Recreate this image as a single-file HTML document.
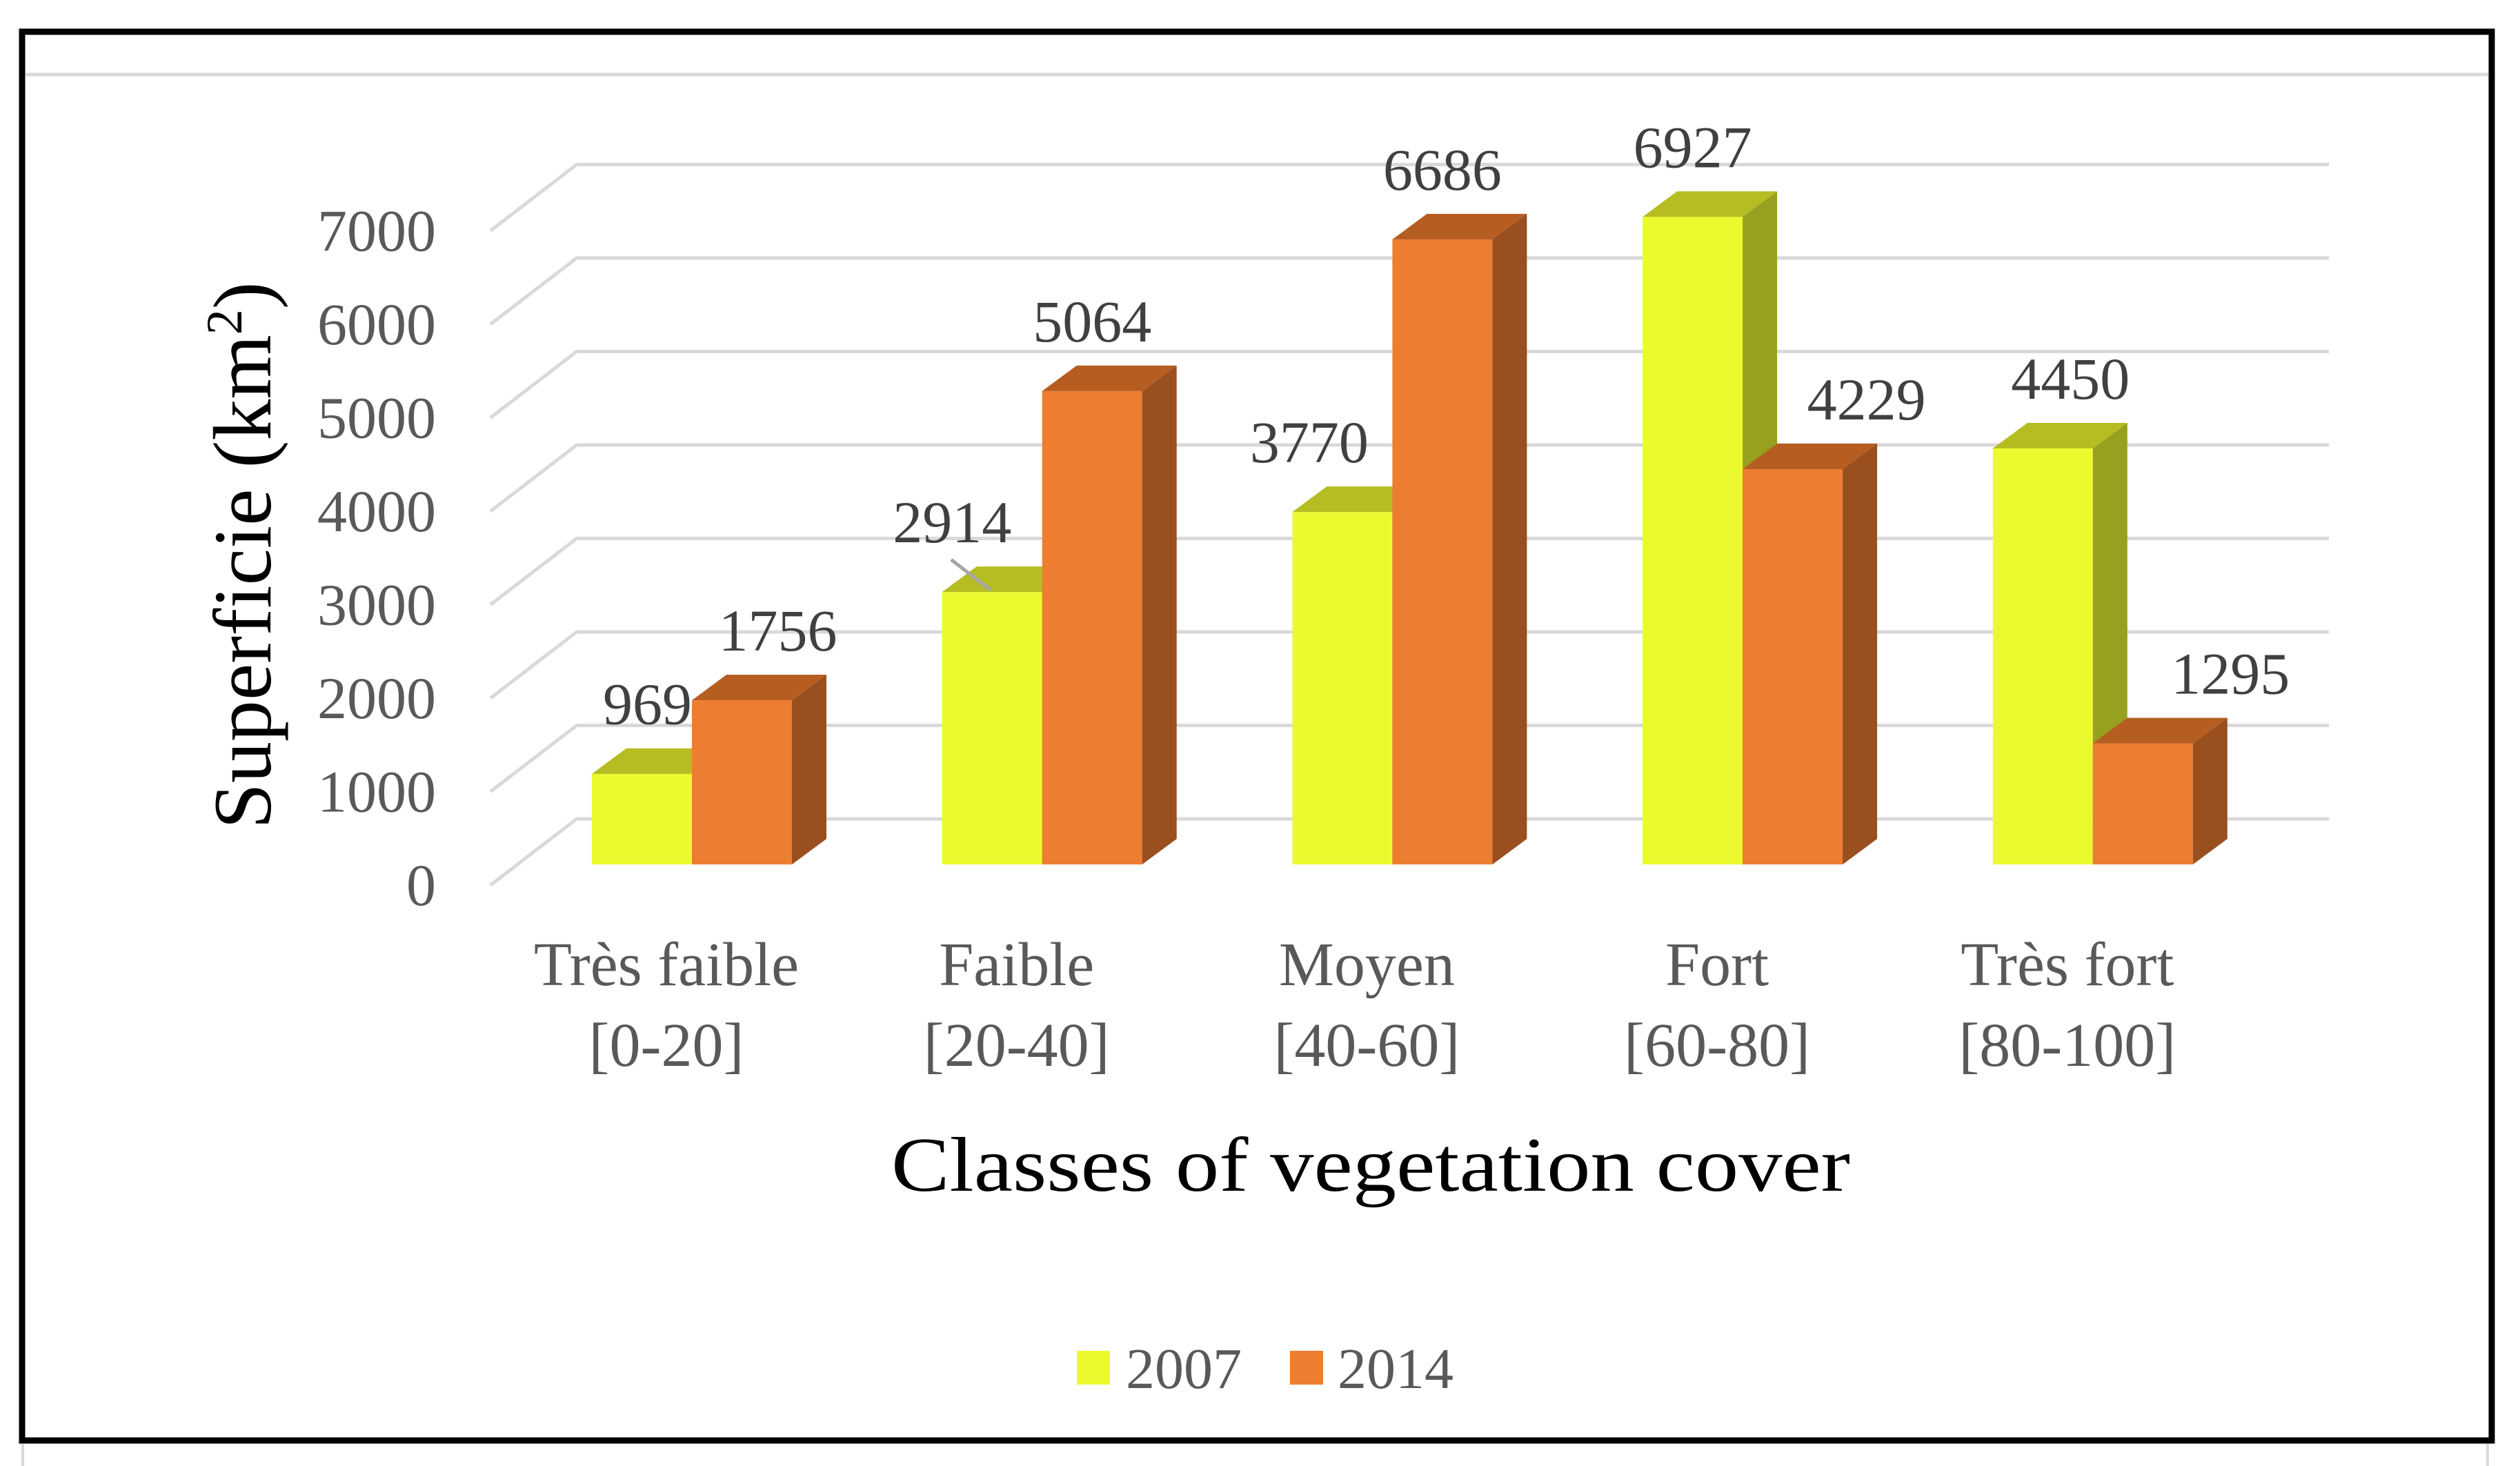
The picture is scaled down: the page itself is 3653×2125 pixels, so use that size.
<!DOCTYPE html>
<html><head><meta charset="utf-8"><style>
html,body{margin:0;padding:0;background:#fff;}
svg{display:block;}
</style></head><body>
<svg id="chart" width="3653" height="2125" viewBox="0 0 3653 2125" xmlns="http://www.w3.org/2000/svg">
<rect x="0" y="0" width="3653" height="2125" fill="#fff"/>
<line x1="33" y1="2093" x2="33" y2="2125" stroke="#d9d9d9" stroke-width="4"/>
<line x1="3606" y1="2093" x2="3606" y2="2125" stroke="#d9d9d9" stroke-width="4"/>
<rect x="32" y="46" width="3580" height="2042" fill="none" stroke="#000" stroke-width="9"/>
<line x1="37" y1="108" x2="3607" y2="108" stroke="#d9d9d9" stroke-width="5"/>
<g id="grid"></g>
<g id="yticks"></g>
<g id="bars"></g>
<g id="vlabels"></g>
<g id="xlabels"></g>
<text transform="translate(392,805) rotate(-90)" text-anchor="middle" font-family="Liberation Serif, serif" font-size="120" fill="#000">Superficie (km<tspan font-size="74" dy="-42">2</tspan><tspan dy="42">)</tspan></text>
<text x="1987" y="1726" text-anchor="middle" font-family="Liberation Serif, serif" font-size="112" textLength="1390" lengthAdjust="spacingAndGlyphs" fill="#000">Classes of vegetation cover</text>
<g>
<rect x="1561" y="1958" width="48" height="49" fill="#ebfa2f"/>
<text x="1632" y="2012" font-family="Liberation Serif, serif" font-size="84" fill="#595959">2007</text>
<rect x="1870" y="1958" width="48" height="49" fill="#ed7d31"/>
<text x="1939" y="2012" font-family="Liberation Serif, serif" font-size="84" fill="#595959">2014</text>
</g>
</svg>
<script>
const categories = ["Très faible", "Faible", "Moyen", "Fort", "Très fort"];
const ranges = ["[0-20]", "[20-40]", "[40-60]", "[60-80]", "[80-100]"];
const series2007 = [969, 2914, 3770, 6927, 4450];
const series2014 = [1756, 5064, 6686, 4229, 1295];
const yTicks = [0, 1000, 2000, 3000, 4000, 5000, 6000, 7000];
const labelDx2007 = [8, -58, -48, 0, 40];
const labelDx2014 = [52, 0, 0, 107, 127];

const NS = "http://www.w3.org/2000/svg";
const PX = 0.1355, BASE = 1253, FRONT0 = 1283, BACK0 = 1187;
const BW = 145, DX = 50, DY = 37, G0 = 858, PITCH = 507.7;
function yv(v){ return BASE - v*PX; }
function xg(i){ return G0 + i*PITCH; }
function mk(tag, attrs, parent){ const e=document.createElementNS(NS,tag); for(const k in attrs) e.setAttribute(k,attrs[k]); parent.appendChild(e); return e; }

const grid = document.getElementById('grid');
const yt = document.getElementById('yticks');
yTicks.forEach(t=>{
  const fy = FRONT0 - t*PX, by = BACK0 - t*PX;
  const p = mk('polyline',{points:`711,${fy} 836,${by} 3376,${by}`,fill:'none',stroke:'#d9d9d9','stroke-width':5},grid);
  
  
  const tx = mk('text',{x:632,y:fy+29,'text-anchor':'end','font-family':'Liberation Serif, serif','font-size':86,fill:'#595959'},yt);
  tx.textContent = t;
  
  
});

const bars = document.getElementById('bars');
const vl = document.getElementById('vlabels');
function bar(x, v, cf, ct, cs, name){
  const g = mk('g',{},bars);
  
  
  const top = yv(v);
  mk('rect',{x:x,y:top,width:BW,height:BASE-top,fill:cf},g);
  mk('polygon',{points:`${x},${top} ${x+DX},${top-DY} ${x+BW+DX},${top-DY} ${x+BW},${top}`,fill:ct},g);
  mk('polygon',{points:`${x+BW},${top} ${x+BW+DX},${top-DY} ${x+BW+DX},${BASE-DY} ${x+BW},${BASE}`,fill:cs},g);
}
function vlabel(cx, v, name){
  const t = mk('text',{x:cx,y:yv(v)-72,'text-anchor':'middle','font-family':'Liberation Serif, serif','font-size':86,fill:'#404040'},vl);
  t.textContent = v;
  
  
}
categories.forEach((c,i)=>{
  const x = xg(i);
  bar(x, series2007[i], '#ebfa2f', '#b5bd22', '#97a01f', 'bar-2007-'+i);
  bar(x+BW, series2014[i], '#ed7d31', '#b65e22', '#9a4f1f', 'bar-2014-'+i);
  vlabel(x+BW/2+labelDx2007[i], series2007[i], 'value-label-2007');
  vlabel(x+BW*1.5+labelDx2014[i], series2014[i], 'value-label-2014');
  const xl = document.getElementById('xlabels');
  const t1 = mk('text',{x:x+108,y:1428,'text-anchor':'middle','font-family':'Liberation Serif, serif','font-size':90,fill:'#595959'},xl);
  t1.textContent = c;
  
  
  const t2 = mk('text',{x:x+108,y:1545,'text-anchor':'middle','font-family':'Liberation Serif, serif','font-size':90,fill:'#595959'},xl);
  t2.textContent = ranges[i];
  
  
});
const ll = mk('line',{x1:xg(1)+13,y1:yv(series2007[1])-47,x2:xg(1)+70,y2:yv(series2007[1])-3,stroke:'#a6a6a6','stroke-width':5},vl);


</script>
</body></html>
